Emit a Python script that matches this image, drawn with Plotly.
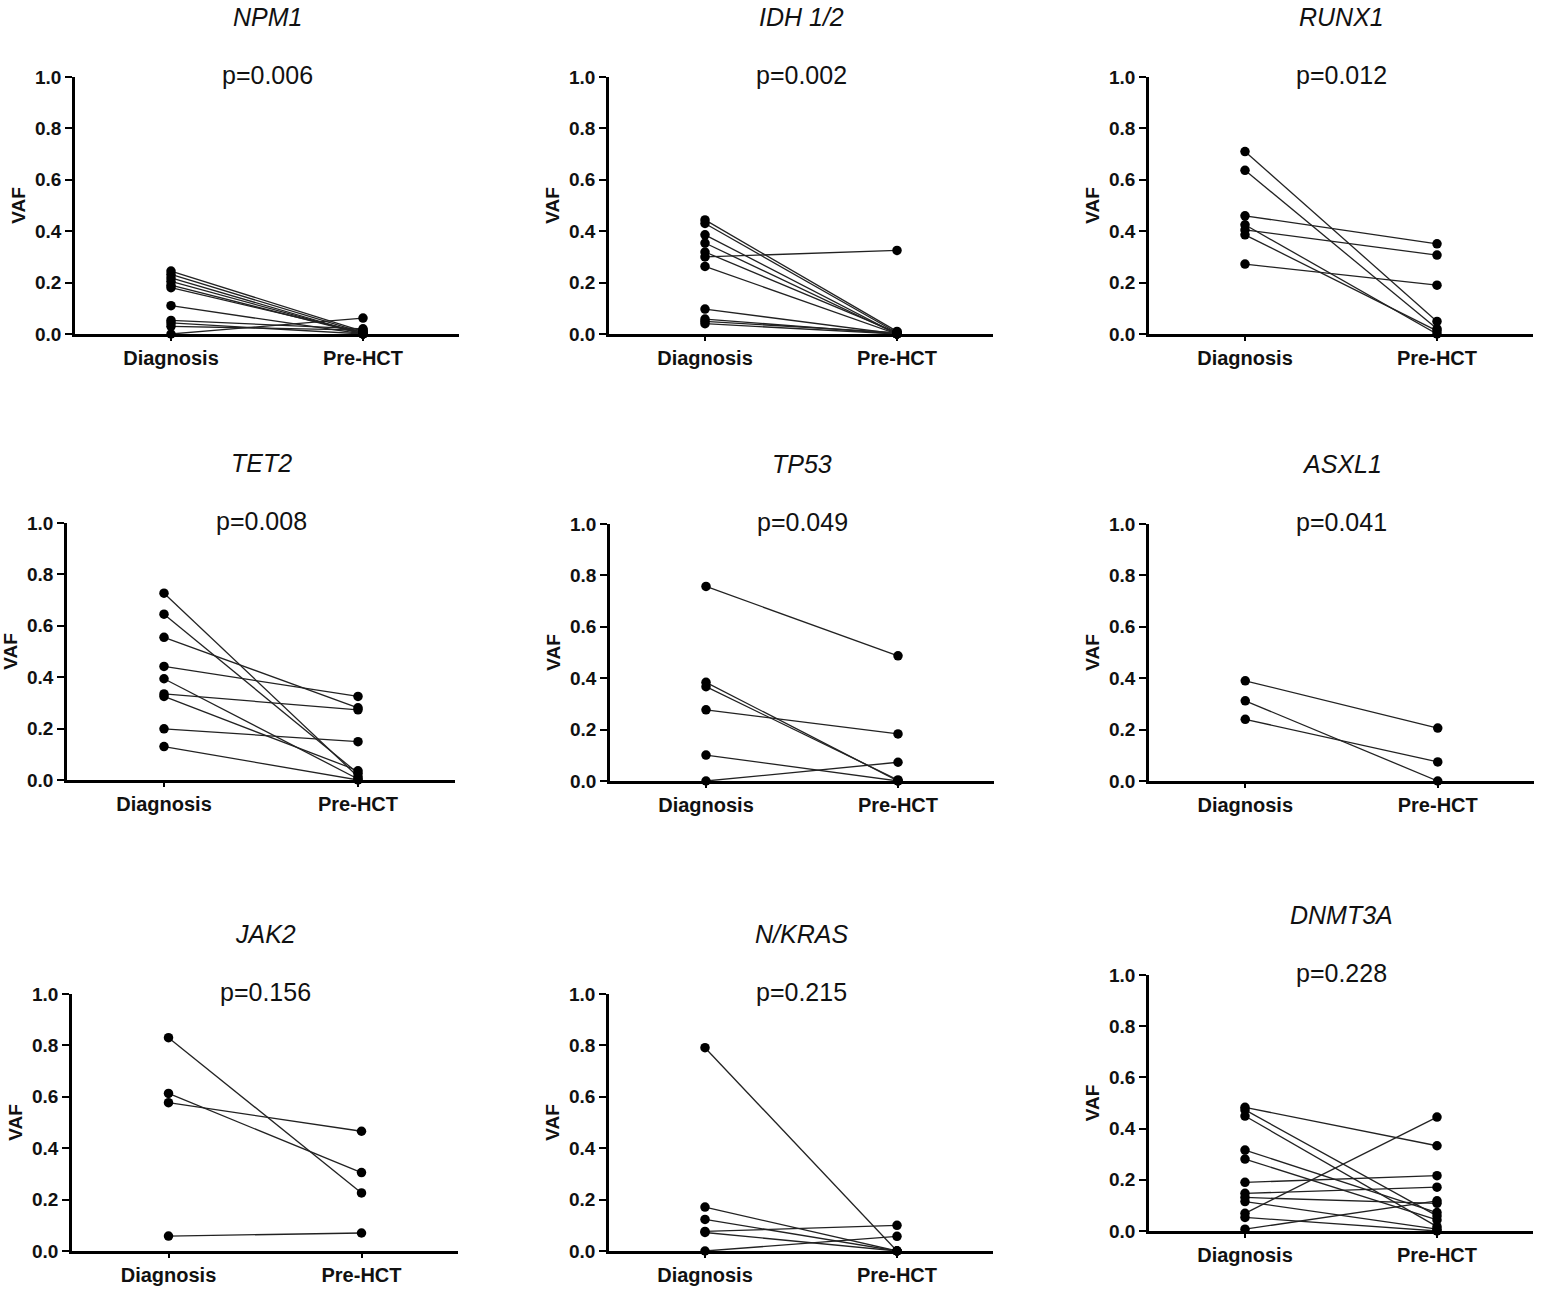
import plotly.graph_objects as go

# ---------------- data ----------------
GROUPS = ["Diagnosis", "Pre-HCT"]
Y_TICKS = [0.0, 0.2, 0.4, 0.6, 0.8, 1.0]
Y_TICK_LABELS = ["0.0", "0.2", "0.4", "0.6", "0.8", "1.0"]

GENES = ["NPM1", "IDH 1/2", "RUNX1", "TET2", "TP53", "ASXL1", "JAK2", "N/KRAS", "DNMT3A"]
P_VALUES = ["p=0.006", "p=0.002", "p=0.012", "p=0.008", "p=0.049", "p=0.041", "p=0.156", "p=0.215", "p=0.228"]

NPM1_DX = [0.245, 0.232, 0.218, 0.205, 0.19, 0.18, 0.11, 0.053, 0.043, 0.03, 0.0]
NPM1_PRE = [0.01, 0.005, 0.0, 0.0, 0.0, 0.005, 0.0, 0.02, 0.0, 0.015, 0.062]

IDH_DX = [0.444, 0.43, 0.386, 0.354, 0.319, 0.30, 0.263, 0.097, 0.058, 0.049, 0.04]
IDH_PRE = [0.01, 0.005, 0.0, 0.0, 0.005, 0.325, 0.0, 0.0, 0.0, 0.005, 0.0]

RUNX1_DX = [0.71, 0.637, 0.46, 0.425, 0.405, 0.386, 0.272]
RUNX1_PRE = [0.049, 0.02, 0.351, 0.0, 0.307, 0.012, 0.19]

TET2_DX = [0.727, 0.645, 0.555, 0.442, 0.394, 0.335, 0.325, 0.199, 0.13]
TET2_PRE = [0.013, 0.026, 0.281, 0.325, 0.004, 0.273, 0.036, 0.149, 0.0]

TP53_DX = [0.757, 0.384, 0.367, 0.277, 0.101, 0.0]
TP53_PRE = [0.487, 0.0, 0.004, 0.183, 0.0, 0.073]

ASXL1_DX = [0.39, 0.312, 0.24]
ASXL1_PRE = [0.206, 0.0, 0.074]

JAK2_DX = [0.83, 0.613, 0.577, 0.058]
JAK2_PRE = [0.226, 0.305, 0.466, 0.07]

NKRAS_DX = [0.791, 0.171, 0.123, 0.076, 0.072, 0.0]
NKRAS_PRE = [0.0, 0.0, 0.0, 0.1, 0.0, 0.057]

DNMT3A_DX = [0.483, 0.473, 0.449, 0.316, 0.281, 0.19, 0.147, 0.131, 0.115, 0.069, 0.053, 0.007]
DNMT3A_PRE = [0.333, 0.059, 0.017, 0.072, 0.043, 0.216, 0.171, 0.108, 0.007, 0.445, 0.0, 0.118]

SERIES = [
    (NPM1_DX, NPM1_PRE), (IDH_DX, IDH_PRE), (RUNX1_DX, RUNX1_PRE),
    (TET2_DX, TET2_PRE), (TP53_DX, TP53_PRE), (ASXL1_DX, ASXL1_PRE),
    (JAK2_DX, JAK2_PRE), (NKRAS_DX, NKRAS_PRE), (DNMT3A_DX, DNMT3A_PRE),
]

# ---------------- layout geometry (pixels) ----------------
W, H = 1542, 1292
# x pixel domain [left, right] for range [-0.5, 1.5]; y pixel [top(1.0), bottom(0.0)]
X_DOM = [(75, 459), (609, 993), (1149, 1533),
         (67, 455), (610, 994), (1149, 1534),
         (72, 458), (609, 993), (1149, 1533)]
Y_DOM = [(77, 334), (77, 334), (77, 334),
         (523, 780), (524, 781), (524, 781),
         (994, 1251), (994, 1251), (975, 1231)]

FONT = "Liberation Sans, Arial, Helvetica, sans-serif"

fig = go.Figure()
layout = dict(
    width=W, height=H,
    margin=dict(l=0, r=0, t=0, b=0, autoexpand=False),
    paper_bgcolor="white", plot_bgcolor="white",
    showlegend=False,
    font=dict(family=FONT, color="black"),
)
annotations = []

for i, (gene, pval, (dx, pre)) in enumerate(zip(GENES, P_VALUES, SERIES)):
    n = i + 1
    xa = "x" if n == 1 else f"x{n}"
    ya = "y" if n == 1 else f"y{n}"
    xk = "xaxis" if n == 1 else f"xaxis{n}"
    yk = "yaxis" if n == 1 else f"yaxis{n}"

    lx, ly = [], []
    for a, b in zip(dx, pre):
        lx += [0, 1, None]
        ly += [a, b, None]
    fig.add_trace(go.Scatter(x=lx, y=ly, mode="lines", xaxis=xa, yaxis=ya,
                             line=dict(color="#222222", width=1.3),
                             hoverinfo="skip", cliponaxis=False))
    fig.add_trace(go.Scatter(x=[0] * len(dx) + [1] * len(pre), y=list(dx) + list(pre),
                             mode="markers", xaxis=xa, yaxis=ya,
                             marker=dict(color="black", size=9.5),
                             cliponaxis=False))

    x0, x1 = X_DOM[i]
    yt, yb = Y_DOM[i]
    layout[xk] = dict(
        domain=[x0 / W, x1 / W], range=[-0.5, 1.5], anchor=ya,
        tickvals=[0, 1], ticktext=[f"<b>{g}</b>" for g in GROUPS],
        showline=True, linecolor="black", linewidth=2.6,
        ticks="outside", ticklen=4, tickwidth=2, tickcolor="black",
        showgrid=False, zeroline=False, automargin=False,
        tickfont=dict(size=20, family=FONT, color="#111111"),
        fixedrange=True,
    )
    layout[yk] = dict(
        domain=[1 - yb / H, 1 - yt / H], range=[0, 1], anchor=xa,
        tickvals=Y_TICKS, ticktext=[f"<b>{t}</b>" for t in Y_TICK_LABELS],
        showline=True, linecolor="black", linewidth=2.6,
        ticks="outside", ticklen=7, tickwidth=2, tickcolor="black",
        showgrid=False, zeroline=False, automargin=False,
        tickfont=dict(size=19, family=FONT, color="#111111"),
        title=dict(text="<b>VAF</b>", font=dict(size=19, family=FONT, color="#111111"),
                   standoff=5),
        fixedrange=True,
    )

    xc = ((x0 + x1) / 2) / W
    annotations.append(dict(
        text=f"<i>{gene}</i>", x=xc, y=1 - (yt - 60) / H, xref="paper", yref="paper",
        xanchor="center", yanchor="middle", showarrow=False,
        font=dict(size=25, family=FONT, color="#111111"),
    ))
    annotations.append(dict(
        text=pval, x=xc, y=1 - (yt - 2) / H, xref="paper", yref="paper",
        xanchor="center", yanchor="middle", showarrow=False,
        font=dict(size=25, family=FONT, color="#111111"),
    ))

layout["annotations"] = annotations
fig.update_layout(**layout)
fig.write_html(
    "out.html",
    config={"displayModeBar": False},
    post_script="document.body.style.margin='0';document.body.style.overflow='hidden';",
)
